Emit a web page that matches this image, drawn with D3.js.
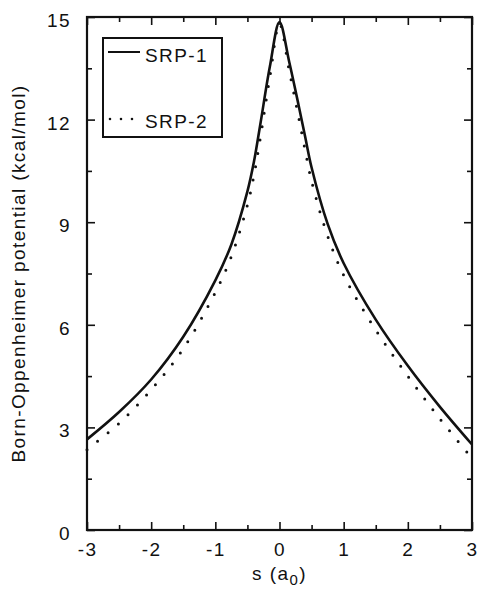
<!DOCTYPE html>
<html>
<head>
<meta charset="utf-8">
<script src="https://cdn.jsdelivr.net/npm/d3@7"></script>
<style>
  body { margin: 0; background: #fff; }
  svg text { font-family: "Liberation Sans", Arial, Helvetica, sans-serif; fill: #111; }
</style>
</head>
<body>
<svg id="chart" width="481" height="589"></svg>
<script>
// values
var sValues = [-3, -2.5, -2, -1.5, -1, -0.75, -0.5, -0.4, -0.3, -0.15, 0, 0.15, 0.3, 0.4, 0.5, 0.75, 1, 1.5, 2, 2.5, 3]
var srp1 = [2.65, 3.45, 4.4, 5.65, 7.3, 8.35, 9.9, 10.75, 11.85, 13.55, 14.85, 13.7, 12.4, 11.5, 10.6, 8.95, 7.8, 6.15, 4.8, 3.6, 2.5]
var srp2 = [2.35, 3.12, 4.1, 5.3, 6.95, 8.0, 9.5, 10.35, 11.45, 13.25, 14.8, 13.45, 12.05, 11.1, 10.2, 8.6, 7.45, 5.85, 4.5, 3.25, 2.1]
var seriesNames = ["SRP-1", "SRP-2"]

var xMajor = [-3, -2, -1, 0, 1, 2, 3]
var xMinor = [-2.5, -1.5, -0.5, 0.5, 1.5, 2.5]
var yMajor = [0, 3, 6, 9, 12, 15]
var yMinor = [1.5, 4.5, 7.5, 10.5, 13.5]

var plotL = 87, plotR = 472, plotT = 17, plotB = 530
var svg = d3.select("#chart")

var x = d3.scaleLinear().domain([-3, 3]).range([plotL, plotR])
var y = d3.scaleLinear().domain([0, 15]).range([plotB, plotT])

var fontSize = "19px", spacing = "1.4px"

// axes, ticks pointing inward
function styleAxis(g) {
  g.select(".domain").remove()
  g.selectAll(".tick line").attr("stroke", "#111").attr("stroke-width", 1.6)
  g.selectAll("text").style("font-size", fontSize).style("letter-spacing", spacing).attr("fill", "#111")
}

svg.append("g").attr("transform", `translate(0,${plotB})`)
  .call(d3.axisBottom(x).tickValues(xMajor).tickSize(-8).tickPadding(13).tickFormat(d => String(d)))
  .call(styleAxis)
svg.append("g").attr("transform", `translate(0,${plotB})`)
  .call(d3.axisBottom(x).tickValues(xMinor).tickSize(-5).tickFormat(""))
  .call(styleAxis)
svg.append("g").attr("transform", `translate(0,${plotT})`)
  .call(d3.axisTop(x).tickValues(xMajor).tickSize(-8).tickFormat(""))
  .call(styleAxis)
svg.append("g").attr("transform", `translate(0,${plotT})`)
  .call(d3.axisTop(x).tickValues(xMinor).tickSize(-5).tickFormat(""))
  .call(styleAxis)

var yl = svg.append("g").attr("transform", `translate(${plotL},0)`)
  .call(d3.axisLeft(y).tickValues(yMajor).tickSize(-8).tickPadding(16).tickFormat(d => String(d)))
  .call(styleAxis)
yl.selectAll("text").attr("dy", "0.5em")
svg.append("g").attr("transform", `translate(${plotL},0)`)
  .call(d3.axisLeft(y).tickValues(yMinor).tickSize(-5).tickFormat(""))
  .call(styleAxis)
svg.append("g").attr("transform", `translate(${plotR},0)`)
  .call(d3.axisRight(y).tickValues(yMajor).tickSize(-8).tickFormat(""))
  .call(styleAxis)
svg.append("g").attr("transform", `translate(${plotR},0)`)
  .call(d3.axisRight(y).tickValues(yMinor).tickSize(-5).tickFormat(""))
  .call(styleAxis)

// frame
svg.append("rect").attr("x", plotL).attr("y", plotT).attr("width", plotR - plotL).attr("height", plotB - plotT)
  .attr("fill", "none").attr("stroke", "#111").attr("stroke-width", 2.2)

// curves
var line = d3.line().x(d => x(d[0])).y(d => y(d[1])).curve(d3.curveCatmullRom.alpha(0.5))

svg.append("path").datum(d3.zip(sValues, srp2)).attr("d", line)
  .attr("fill", "none").attr("stroke", "#111").attr("stroke-width", 3)
  .attr("stroke-linecap", "round").attr("stroke-dasharray", "0,13.5")
svg.append("path").datum(d3.zip(sValues, srp1)).attr("d", line)
  .attr("fill", "none").attr("stroke", "#111").attr("stroke-width", 2.6)

// legend
var legend = svg.append("g")
legend.append("rect").attr("x", 103).attr("y", 38).attr("width", 119).attr("height", 99)
  .attr("fill", "#fff").attr("stroke", "#111").attr("stroke-width", 2)
legend.append("line").attr("x1", 108).attr("x2", 140).attr("y1", 52).attr("y2", 52)
  .attr("stroke", "#111").attr("stroke-width", 2)
legend.append("line").attr("x1", 110).attr("x2", 140).attr("y1", 119).attr("y2", 119)
  .attr("stroke", "#111").attr("stroke-width", 2.6).attr("stroke-linecap", "round").attr("stroke-dasharray", "0,11")
legend.append("text").text(seriesNames[0]).attr("x", 145).attr("y", 62)
  .style("font-size", fontSize).style("letter-spacing", spacing)
legend.append("text").text(seriesNames[1]).attr("x", 145).attr("y", 128)
  .style("font-size", fontSize).style("letter-spacing", spacing)

// axis titles
var xt = svg.append("text").attr("x", (plotL + plotR) / 2).attr("y", 580).attr("text-anchor", "middle")
  .style("font-size", fontSize).style("letter-spacing", spacing)
xt.append("tspan").text("s (a")
xt.append("tspan").text("0").attr("dy", 5).style("font-size", "15px")
xt.append("tspan").text(")").attr("dy", -5)

svg.append("text").text("Born-Oppenheimer potential (kcal/mol)")
  .attr("transform", `translate(25,${(plotT + plotB) / 2}) rotate(-90)`)
  .attr("text-anchor", "middle")
  .style("font-size", fontSize).style("letter-spacing", spacing)
</script>
</body>
</html>
